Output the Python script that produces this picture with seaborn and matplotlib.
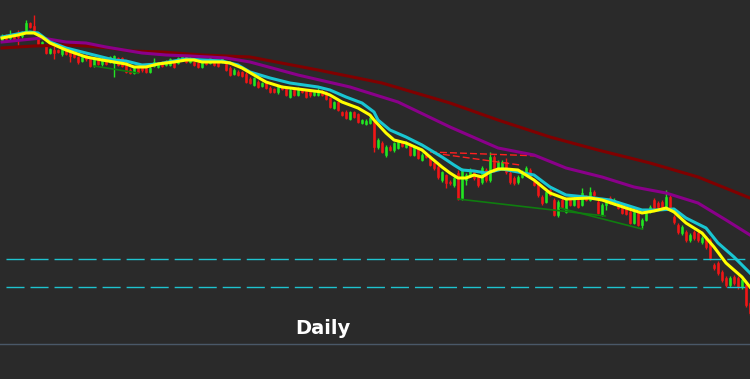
import numpy as np
import pandas as pd
import matplotlib
matplotlib.use("Agg")
import matplotlib.pyplot as plt
import seaborn as sns

# ---------------- data (daily candles, arbitrary price units) ----------------
open_ = [310, 314, 312, 314, 316, 314, 318, 327, 324, 312,
         306, 304, 297, 300, 300, 296, 301, 299, 297, 293,
         289, 295, 291, 285, 292, 286, 291, 288, 287, 292,
         292, 286, 280, 277, 282, 283, 282, 278, 284, 283,
         288, 285, 285, 288, 287, 290, 293, 288, 288, 287,
         283, 289, 287, 288, 288, 288, 286, 282, 276, 278,
         278, 276, 271, 265, 268, 264, 267, 262, 261, 258,
         264, 262, 253, 260, 255, 260, 259, 258, 255, 255,
         259, 258, 252, 242, 248, 238, 238, 231, 238, 236,
         227, 226, 227, 228, 203, 207, 195, 203, 200, 202,
         208, 203, 205, 195, 202, 190, 197, 193, 187, 183,
         170, 175, 168, 165, 177, 152, 170, 175, 178, 173,
         168, 180, 170, 193, 182, 182, 188, 177, 172, 168,
         173, 175, 180, 168, 167, 153, 148, 160, 150, 135,
         150, 138, 150, 145, 150, 145, 153, 150, 158, 148,
         135, 145, 152, 146, 147, 145, 142, 138, 127, 137,
         125, 130, 138, 150, 147, 148, 143, 153, 133, 125,
         117, 118, 110, 118, 117, 108, 112, 110, 85, 87,
         78, 72, 65, 73, 72, 63, 65, 47]
close = [313, 311, 315, 311, 313, 317, 327, 323, 318, 306,
         308, 297, 301, 297, 298, 301, 296, 294, 293, 288,
         293, 291, 284, 291, 286, 291, 286, 293, 294, 285,
         284, 278, 277, 282, 278, 280, 278, 282, 288, 287,
         284, 289, 291, 283, 292, 295, 288, 292, 285, 283,
         287, 286, 292, 285, 284, 292, 280, 275, 280, 275,
         274, 268, 267, 272, 263, 267, 262, 258, 258, 264,
         261, 255, 260, 255, 260, 258, 253, 255, 258, 260,
         255, 251, 243, 248, 240, 235, 232, 238, 233, 228,
         230, 229, 232, 203, 210, 198, 203, 200, 207, 208,
         204, 208, 195, 203, 192, 195, 193, 185, 182, 173,
         178, 167, 167, 172, 152, 180, 175, 180, 172, 165,
         182, 170, 193, 180, 188, 188, 178, 168, 167, 173,
         178, 182, 173, 165, 155, 147, 158, 155, 135, 148,
         143, 150, 145, 152, 143, 157, 150, 158, 155, 137,
         145, 150, 147, 150, 142, 137, 136, 127, 138, 125,
         130, 137, 143, 142, 143, 143, 153, 140, 128, 118,
         123, 110, 115, 112, 110, 112, 103, 92, 82, 77,
         70, 65, 72, 67, 63, 70, 45, 37]
high = [316, 316, 320, 315, 320, 319, 330, 328, 335, 314,
        309, 306, 302, 304, 301, 303, 302, 302, 298, 294,
        294, 297, 292, 293, 293, 294, 292, 294, 295, 293,
        293, 290, 282, 283, 284, 284, 284, 284, 292, 288,
        289, 290, 292, 289, 293, 298, 295, 293, 289, 288,
        288, 290, 293, 289, 289, 293, 288, 284, 282, 280,
        279, 278, 273, 273, 270, 268, 268, 264, 262, 265,
        265, 263, 262, 261, 263, 262, 260, 259, 260, 262,
        260, 259, 253, 249, 249, 239, 240, 239, 239, 237,
        231, 231, 234, 230, 212, 209, 205, 205, 208, 209,
        209, 209, 207, 204, 203, 197, 198, 195, 188, 185,
        179, 176, 170, 174, 180, 182, 177, 182, 180, 175,
        184, 182, 198, 195, 190, 190, 192, 179, 174, 175,
        180, 184, 182, 170, 168, 155, 160, 162, 152, 150,
        152, 152, 152, 154, 152, 162, 155, 163, 160, 150,
        147, 152, 154, 152, 149, 147, 144, 140, 140, 139,
        132, 139, 145, 152, 149, 150, 160, 155, 135, 127,
        125, 120, 117, 120, 119, 114, 114, 112, 87, 89,
        80, 74, 74, 75, 74, 72, 67, 49]
low = [308, 309, 310, 309, 305, 312, 317, 322, 317, 304,
       305, 296, 296, 291, 297, 294, 295, 288, 292, 286,
       288, 289, 283, 283, 285, 284, 285, 287, 273, 284,
       283, 277, 276, 276, 277, 278, 277, 277, 283, 282,
       283, 284, 284, 282, 286, 289, 287, 287, 284, 282,
       282, 285, 286, 284, 283, 287, 279, 274, 275, 274,
       273, 267, 266, 264, 262, 263, 261, 257, 257, 256,
       260, 254, 252, 254, 254, 257, 252, 253, 254, 254,
       254, 250, 242, 241, 239, 234, 231, 230, 232, 227,
       226, 225, 226, 198, 201, 197, 193, 199, 198, 201,
       203, 202, 194, 194, 191, 189, 192, 184, 180, 171,
       168, 162, 165, 163, 150, 150, 165, 173, 170, 163,
       166, 168, 168, 178, 180, 180, 176, 166, 165, 166,
       172, 174, 172, 164, 153, 145, 147, 154, 134, 133,
       142, 137, 144, 144, 142, 144, 149, 149, 154, 136,
       134, 140, 146, 145, 141, 136, 135, 126, 126, 124,
       121, 129, 137, 141, 142, 142, 142, 139, 126, 116,
       115, 108, 108, 110, 108, 106, 101, 90, 80, 75,
       68, 63, 63, 65, 61, 61, 43, 35]

# moving averages (candle index -> value)
yellow_idx = [0, 4, 6, 8, 10, 12, 16, 21, 25, 28, 31, 33, 36, 39, 43, 46, 48, 50, 55, 57,
              60, 63, 66, 70, 74, 80, 82, 85, 89, 92, 93, 96, 98, 101, 105, 107, 110, 112, 114, 116,
              118, 120, 122, 124, 126, 129, 133, 137, 141, 147, 150, 156, 160, 163, 166, 168, 171, 175, 178, 181,
              185, 187]
yellow_val = [312, 315, 317, 317, 313, 307, 300, 293, 290, 288, 286, 283, 283, 286, 288, 290, 290, 288, 288, 287,
              282, 275, 268, 263, 261, 258, 255, 248, 242, 235, 230, 217, 210, 207, 200, 193, 183, 177, 172, 172,
              175, 173, 178, 181, 181, 180, 170, 157, 151, 152, 150, 142, 137, 139, 142, 138, 127, 117, 103, 87,
              73, 63]
cyan_idx = [0, 5, 7, 9, 12, 16, 21, 25, 28, 31, 35, 39, 43, 46, 50, 55, 59, 62, 67, 72,
            79, 82, 86, 90, 93, 94, 97, 101, 105, 110, 113, 115, 118, 121, 125, 133, 137, 141, 146, 152,
            156, 160, 164, 168, 171, 176, 179, 183, 187]
cyan_val = [313, 317, 318, 317, 308, 302, 297, 293, 290, 289, 285, 286, 289, 291, 290, 289, 285, 278, 272, 267,
            263, 260, 253, 247, 238, 230, 220, 213, 205, 193, 185, 180, 179, 177, 181, 175, 163, 155, 153, 150,
            145, 140, 140, 141, 132, 122, 107, 93, 77]
purple_idx = [0, 5, 10, 16, 21, 26, 32, 35, 41, 47, 56, 62, 74, 87, 99, 112, 124, 133, 141, 150,
              158, 166, 174, 181, 187]
purple_val = [308, 310, 312, 308, 307, 303, 299, 297, 295, 294, 292, 288, 275, 263, 248, 223, 202, 195, 182, 173,
              163, 157, 147, 130, 115]
dred_idx = [0, 8, 16, 21, 27, 32, 40, 50, 62, 79, 95, 112, 124, 137, 149, 162, 174, 187]
dred_val = [302, 304, 305, 304, 302, 299, 298, 295, 293, 280, 267, 247, 230, 213, 200, 187, 173, 152]

# horizontal support levels and drawn trend lines
levels = [91, 63]
green_lines = [([23, 34], [284, 277]), ([114, 150.75], [151, 134]), ([139.5, 160], [142, 121])]
red_lines = [([107, 134.5], [198, 194]), ([107.75, 129.5], [197, 185])]
label = "Daily"

# ---------------- drawing ----------------
BG = "#2a2a2a"
plt.rcParams["lines.scale_dashes"] = False
fig = plt.figure(figsize=(7.5, 3.79), dpi=100, facecolor=BG)
ax = fig.add_axes([0, 0, 1, 1])
ax.set_facecolor(BG)

df = pd.DataFrame({"o": open_, "c": close, "h": high, "l": low})
df["i"] = np.arange(len(df))
up = df["c"] >= df["o"]
col = np.where(up, "#22e622", "#f01616")
ax.vlines(df["i"], df["l"], df["h"], colors=col, linewidth=1.0, zorder=2)
body = (df["c"] - df["o"]).abs().clip(lower=1.5)
ax.bar(df["i"], body, bottom=np.minimum(df["o"], df["c"]), width=0.72,
       color=col, edgecolor=col, linewidth=0.4, zorder=2)

for lv in levels:
    ax.hlines(lv, -0.5, len(df), colors="#1ec3cf", linewidth=1.0,
              linestyles=[(13.0, (13.0, 4.3))], zorder=3)

for xs, ys in green_lines:
    ax.plot(xs, ys, color="#0f7d0f", linewidth=1.2, zorder=3)
for xs, ys in red_lines:
    ax.plot(xs, ys, color="#ff2020", linewidth=1.0, linestyle=(0, (5, 2.2)), zorder=3)

sns.lineplot(x=dred_idx, y=dred_val, ax=ax, color="#800000", linewidth=2.2, zorder=4)
sns.lineplot(x=purple_idx, y=purple_val, ax=ax, color="#8a008a", linewidth=2.2, zorder=4)
sns.lineplot(x=cyan_idx, y=cyan_val, ax=ax, color="#19c6d2", linewidth=2.2, zorder=5)
sns.lineplot(x=yellow_idx, y=yellow_val, ax=ax, color="#ffff00", linewidth=2.2, zorder=6)

ax.axhline(6, color="#4a5868", linewidth=1.0, zorder=1)
fig.text(323 / 750, 1 - 329 / 379, label, color="white", fontsize=14,
         fontweight="bold", family="DejaVu Sans", ha="center", va="center")

ax.set_xlim(-0.5, 187)
ax.set_ylim(-29, 350)
ax.axis("off")
fig.savefig("out.png", dpi=100, facecolor=BG)
